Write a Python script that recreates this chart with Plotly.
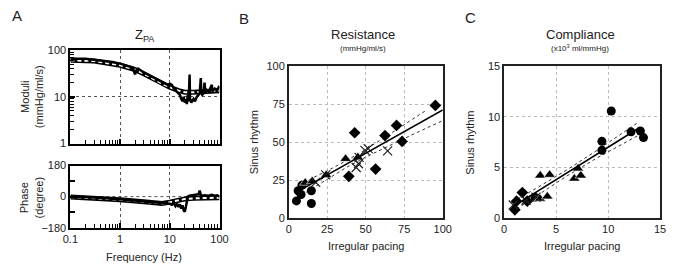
import plotly.graph_objects as go

# ---------------- Panel A data ----------------
freq_meas = [0.1, 0.15, 0.2, 0.3, 0.5, 0.7, 1.0, 1.5, 1.8, 1.9, 2.0, 2.1, 2.3, 3.0, 4.0, 5.0, 7.0,
             9.0, 10.0, 11.0, 12.0, 14.0, 16.0, 17.0, 18.0, 19.0, 20.0, 21.0, 22.0, 23.0, 24.0,
             25.0, 25.5, 27.0, 30.0, 32.0, 35.0, 38.0, 40.0, 42.0, 43.0, 45.0, 48.0, 50.0, 52.0,
             55.0, 60.0, 65.0, 70.0, 72.0, 80.0, 90.0, 100.0]
mod_meas = [65, 66, 65, 62, 58, 55, 51, 45, 42, 35, 30, 36, 40, 33, 28, 24.5, 20,
            18, 19, 18, 15, 13, 11, 9, 8, 10, 7.5, 9, 7, 11, 8,
            30, 9, 7.5, 9, 8, 10, 11, 12, 25, 12, 11, 12, 20, 12,
            14, 13, 15, 18, 13, 15, 14, 17]
freq_model = [0.1, 0.3, 1.0, 2.0, 3.0, 5.0, 7.0, 10.0, 15.0, 20.0, 30.0, 50.0, 100.0]
mod_model = [60, 58, 47, 38, 31, 23, 19, 16, 13.5, 12.5, 12.5, 13, 13.5]

freq_ph_meas = [0.1, 0.3, 1.0, 3.0, 7.0, 10.0, 11.0, 12.0, 13.0, 14.0, 15.0, 16.0, 17.0, 18.0,
                19.0, 20.0, 21.0, 22.0, 23.0, 25.0, 28.0, 30.0, 35.0, 38.0, 40.0, 42.0, 45.0,
                50.0, 60.0, 70.0, 80.0, 90.0, 100.0]
phase_meas = [0, -5, -15, -27, -36, -42, -47, -38, -55, -42, -60, -45, -70, -50,
              -80, -88, -60, -20, 0, 5, 8, 6, 10, 14, 35, 10, 5,
              8, 5, 10, 5, 8, 0]
freq_ph_model = [0.1, 0.3, 1.0, 3.0, 7.0, 10.0, 15.0, 20.0, 30.0, 50.0, 100.0]
phase_model = [-2, -8, -18, -30, -40, -32, -20, -14, -10, -8, -6]

# ---------------- Panel B data (Resistance) ----------------
b_circ_x = [5.0, 6.1, 8.6, 8.0, 14.7, 14.7]
b_circ_y = [11.3, 18.0, 21.6, 15.5, 18.0, 9.6]
b_tri_x = [10.7, 15.3, 24.3, 36.9, 44.9]
b_tri_y = [23.3, 24.3, 28.3, 39.0, 40.0]
b_x_x = [17.5, 24.0, 43.8, 45.3, 45.7, 49.5, 51.6, 64.2]
b_x_y = [23.5, 28.5, 33.3, 35.8, 40.0, 44.6, 45.7, 44.2]
b_dia_x = [39.0, 42.8, 56.4, 62.5, 70.0, 73.6, 95.2]
b_dia_y = [27.5, 56.2, 32.3, 54.3, 61.0, 50.5, 74.2]
b_fit_x = [6, 100]
b_fit_y = [17.6, 71.2]
b_up_x = [6, 15, 25, 38, 50, 65, 80, 89]
b_up_y = [21.7, 26.0, 31.1, 38.1, 45.2, 54.9, 64.8, 70.8]
b_lo_x = [8, 25, 38, 50, 65, 80, 100]
b_lo_y = [14.9, 25.85, 33.7, 40.15, 47.6, 54.8, 64.2]

# ---------------- Panel C data (Compliance) ----------------
c_circ_x = [2.97, 9.4, 9.4, 10.3, 12.2, 13.1, 13.4]
c_circ_y = [2.05, 7.58, 6.7, 10.57, 8.52, 8.6, 7.95]
c_tri_x = [3.44, 3.47, 4.15, 4.37, 6.75, 7.1, 7.37]
c_tri_y = [1.92, 4.2, 2.14, 4.28, 3.9, 4.9, 4.2]
c_dia_x = [1.03, 1.19, 1.75, 2.22]
c_dia_y = [0.82, 1.67, 2.52, 1.67]
c_x_x = [0.87, 2.1, 3.06]
c_x_y = [1.29, 1.76, 2.07]
c_fit_x = [0.8, 13.0]
c_fit_y = [1.11, 8.92]
c_up_x = [0.8, 3, 6, 9, 12.9]
c_up_y = [1.60, 2.89, 4.74, 6.74, 9.46]
c_lo_x = [1.2, 3, 6, 9, 13.5]
c_lo_y = [0.90, 2.145, 4.14, 5.985, 8.5]

FONT = "Liberation Sans, Arial, sans-serif"
TXT = "#222222"

fig = go.Figure()

# Panel A top (moduli)
fig.add_trace(go.Scatter(x=freq_model, y=mod_model, mode="lines", xaxis="x", yaxis="y",
                         line=dict(color="black", width=5), hoverinfo="skip"))
fig.add_trace(go.Scatter(x=freq_model, y=mod_model, mode="lines", xaxis="x", yaxis="y",
                         line=dict(color="white", width=2, dash="4px,3px"), hoverinfo="skip"))
fig.add_trace(go.Scatter(x=freq_meas, y=mod_meas, mode="lines", xaxis="x", yaxis="y",
                         line=dict(color="black", width=2.5)))
# Panel A bottom (phase)
fig.add_trace(go.Scatter(x=freq_ph_model, y=phase_model, mode="lines", xaxis="x2", yaxis="y2",
                         line=dict(color="black", width=5), hoverinfo="skip"))
fig.add_trace(go.Scatter(x=freq_ph_model, y=phase_model, mode="lines", xaxis="x2", yaxis="y2",
                         line=dict(color="white", width=2, dash="4px,3px"), hoverinfo="skip"))
fig.add_trace(go.Scatter(x=freq_ph_meas, y=phase_meas, mode="lines", xaxis="x2", yaxis="y2",
                         line=dict(color="black", width=2.5)))

def add_scatter_panel(xa, ya, circ, tri, dia, xx, fit, up, lo):
    fig.add_trace(go.Scatter(x=up[0], y=up[1], mode="lines", xaxis=xa, yaxis=ya,
                             line=dict(color="#333", width=1, dash="dot")))
    fig.add_trace(go.Scatter(x=lo[0], y=lo[1], mode="lines", xaxis=xa, yaxis=ya,
                             line=dict(color="#333", width=1, dash="dot")))
    fig.add_trace(go.Scatter(x=circ[0], y=circ[1], mode="markers", xaxis=xa, yaxis=ya,
                             marker=dict(symbol="circle", size=9, color="black")))
    fig.add_trace(go.Scatter(x=dia[0], y=dia[1], mode="markers", xaxis=xa, yaxis=ya,
                             marker=dict(symbol="diamond", size=9, color="black")))
    fig.add_trace(go.Scatter(x=tri[0], y=tri[1], mode="markers", xaxis=xa, yaxis=ya,
                             marker=dict(symbol="triangle-up", size=10, color="black",
                                         line=dict(color="white", width=0.6))))
    fig.add_trace(go.Scatter(x=xx[0], y=xx[1], mode="markers", xaxis=xa, yaxis=ya,
                             marker=dict(symbol="x-thin-open", size=9, color="#222",
                                         line=dict(color="#222", width=1.2))))
    fig.add_trace(go.Scatter(x=fit[0], y=fit[1], mode="lines", xaxis=xa, yaxis=ya,
                             line=dict(color="black", width=1.6)))

add_scatter_panel("x3", "y3", (b_circ_x, b_circ_y), (b_tri_x, b_tri_y), (b_dia_x, b_dia_y),
                  (b_x_x, b_x_y), (b_fit_x, b_fit_y), (b_up_x, b_up_y), (b_lo_x, b_lo_y))
add_scatter_panel("x4", "y4", (c_circ_x, c_circ_y), (c_tri_x, c_tri_y), (c_dia_x, c_dia_y),
                  (c_x_x, c_x_y), (c_fit_x, c_fit_y), (c_up_x, c_up_y), (c_lo_x, c_lo_y))

W, H = 674, 269
def px(x0, x1):
    return [x0 / W, x1 / W]
def py(top, bottom):
    return [1 - bottom / H, 1 - top / H]

tickfont = dict(family=FONT, size=11, color=TXT)
gridA = dict(showgrid=True, gridcolor="#555", griddash="3px,3px", gridwidth=1)
frameA = dict(showline=True, linecolor="black", linewidth=2, mirror=True, zeroline=False)
frameB = dict(showline=True, linecolor="#222", linewidth=1.5, mirror=True, zeroline=False)
gridB = dict(showgrid=True, gridcolor="#bbbbbb", griddash="dot", gridwidth=1)
minor_log = dict(ticks="inside", ticklen=4, tickwidth=1.3, tickcolor="black", showgrid=False)

fig.update_layout(
    width=W, height=H, margin=dict(l=0, r=0, t=0, b=0),
    paper_bgcolor="white", plot_bgcolor="white", showlegend=False,
    font=dict(family=FONT, color=TXT),
    xaxis=dict(type="log", range=[-1, 2], domain=px(64, 217), anchor="y",
               dtick=1, showticklabels=False, tickcolor="black", tickwidth=1.5,
               ticks="inside", ticklen=5, minor=minor_log, **gridA, **frameA),
    yaxis=dict(type="log", range=[0, 2], domain=py(46, 144), anchor="x",
               dtick=1, ticks="inside", ticklen=5, tickcolor="black", tickwidth=1.5,
               minor=minor_log, tickfont=tickfont, **gridA, **frameA),
    xaxis2=dict(type="log", range=[-1, 2], domain=px(64, 217), anchor="y2",
                dtick=1, ticks="inside", ticklen=5, tickcolor="black", tickwidth=1.5,
                minor=minor_log, tickfont=tickfont, **gridA, **frameA),
    yaxis2=dict(range=[-180, 180], domain=py(167, 232), anchor="x2",
                tick0=0, dtick=180, ticks="inside", ticklen=5, tickcolor="black",
                tickwidth=1.5, tickfont=tickfont,
                minor=dict(dtick=90, tick0=0, ticks="inside", ticklen=5, tickwidth=1.5,
                           tickcolor="black", showgrid=False),
                showgrid=False, **frameA),
    xaxis3=dict(range=[0, 100], domain=px(288, 446), anchor="y3",
                tickvals=[0, 25, 50, 75, 100], tickfont=tickfont, **gridB, **frameB),
    yaxis3=dict(range=[0, 100], domain=py(63, 222), anchor="x3",
                tickvals=[0, 25, 50, 75, 100], tickfont=tickfont, **gridB, **frameB),
    xaxis4=dict(range=[0, 15], domain=px(509, 669), anchor="y4",
                tickvals=[0, 5, 10, 15], tickfont=tickfont, **gridB, **frameB),
    yaxis4=dict(range=[0, 15], domain=py(63, 222), anchor="x4",
                tickvals=[0, 5, 10, 15], tickfont=tickfont, **gridB, **frameB),
)

# phase zero dashed line
fig.add_shape(type="line", xref="x2 domain", yref="y2", x0=0, x1=1, y0=0, y1=0,
              line=dict(color="#555", width=1, dash="3px,3px"), layer="below")

def ann(text, x, y, size, angle=0, xanchor="center"):
    fig.add_annotation(text=text, x=x / W, y=1 - y / H, xref="paper", yref="paper",
                       showarrow=False, textangle=angle, xanchor=xanchor, yanchor="middle",
                       font=dict(family=FONT, size=size, color=TXT))

ann("A", 9, 10, 15)
ann("B", 242, 13, 15)
ann("C", 474, 12, 15)
ann("Z<sub>PA</sub>", 141, 31, 13)
ann("Resistance", 364, 30, 13)
ann("(mmHg/ml/s)", 364, 44, 8)
ann("Compliance", 587, 30, 13)
ann("(x10<sup>3</sup> ml/mmHg)", 587, 44, 8)
ann("Moduli<br>(mmHg/ml/s)", 24, 95, 11, angle=-90)
ann("Phase<br>(degree)", 24, 200, 11, angle=-90)
ann("Frequency (Hz)", 140, 263, 11)
ann("Sinus rhythm", 252, 143, 11, angle=-90)
ann("Irregular pacing", 367, 251, 11)
ann("Sinus rhythm", 474, 143, 11, angle=-90)
ann("Irregular pacing", 589, 251, 11)

fig.write_html("out.html")
